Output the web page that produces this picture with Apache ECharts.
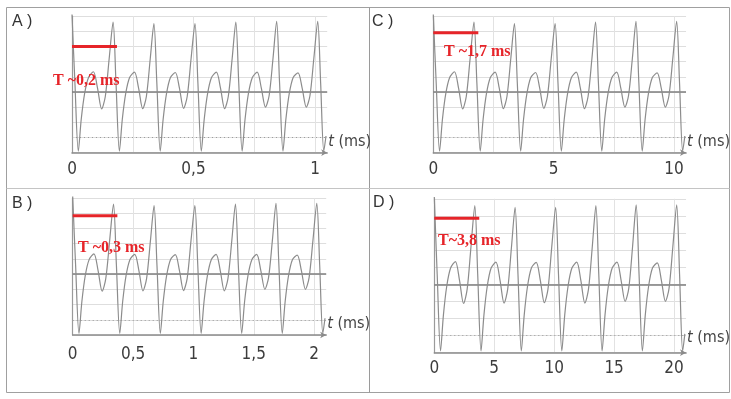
<!DOCTYPE html>
<html>
<head>
<meta charset="utf-8">
<title>Périodes</title>
<script src="https://cdn.jsdelivr.net/npm/echarts@6/dist/echarts.min.js"></script>
<style>
  html, body { margin: 0; padding: 0; background: #fff; }
  #chart { width: 731px; height: 399px; }
</style>
</head>
<body>
<div id="chart"></div>
<script>
// trace: [t (ms, panel A scale), value (grid divisions)]
const wave = [
  [0, 5.1], [0.012, 0.6], [0.026, -3.9], [0.038, -1.8], [0.052, -0.1], [0.068, 0.95], [0.088, 1.33], [0.105, 0.25], [0.122, -1.12], [0.137, -0.3], [0.153, 2.2],
  [0.169, 4.6], [0.181, 0.6], [0.195, -3.9], [0.207, -1.8], [0.221, -0.1], [0.237, 0.95], [0.257, 1.3], [0.274, 0.25], [0.291, -1.1], [0.306, -0.3], [0.322, 2.2],
  [0.337, 4.5], [0.349, 0.6], [0.363, -3.9], [0.375, -1.8], [0.389, -0.1], [0.405, 0.95], [0.425, 1.28], [0.442, 0.25], [0.459, -1.08], [0.474, -0.3], [0.49, 2.2],
  [0.506, 4.5], [0.518, 0.6], [0.532, -3.9], [0.544, -1.8], [0.558, -0.1], [0.574, 0.95], [0.594, 1.3], [0.611, 0.25], [0.628, -1.1], [0.643, -0.3], [0.659, 2.2],
  [0.674, 4.6], [0.686, 0.6], [0.7, -3.9], [0.712, -1.8], [0.726, -0.1], [0.742, 0.95], [0.762, 1.3], [0.779, 0.25], [0.796, -1.0], [0.811, -0.25], [0.827, 2.2],
  [0.842, 4.65], [0.854, 0.6], [0.868, -3.9], [0.88, -1.8], [0.894, -0.1], [0.91, 0.95], [0.93, 1.25], [0.947, 0.25], [0.964, -1.0], [0.979, -0.25], [0.995, 2.2],
  [1.011, 4.65], [1.023, 0.6], [1.036, -3.9], [1.045, -2.9]
]
// panels in order A, B, C, D
const panelNames = ['A )', 'B )', 'C )', 'D )']
const timeScale = [1, 2, 10, 20]
const xMax = [1.05, 2.1, 10.5, 21]
const xStep = [0.5, 0.5, 5, 5]
const periodLabels = ['T ~0,2 ms', 'T ~0,3 ms', 'T ~1,7 ms', 'T~3,8 ms']
const periodEnd = [0.185, 0.37, 1.87, 3.75]
const periodLevel = [3.0, 3.83, 3.89, 3.86]
const refLevels = [0, -3]

// mise en page
const grids = [
  { left: 72, top: 16, width: 255.2, height: 136.7 },
  { left: 72.7, top: 198, width: 253.5, height: 137 },
  { left: 433.3, top: 16, width: 257.3, height: 136.7 },
  { left: 434.3, top: 198.8, width: 255.6, height: 153.9 }
]
const minorGrid = [true, false, true, false]
const labelGap = [8, 11, 8, 7]
const letterPos = [[12, 23], [12, 205], [372, 23], [373, 204]]
const notePos = [[53, 82], [78, 249], [444, 53], [438, 242]]

const narrow = "'Liberation Sans Narrow', 'DejaVu Sans Condensed', 'Liberation Sans', sans-serif"
const gray = '#8c8c8c'
const red = '#e62429'

const fmt = (v) => String(v).replace('.', ',')

const myChart = echarts.init(document.getElementById('chart'), null, { renderer: 'canvas' })

const xAxis = grids.map((g, i) => ({
  type: 'value',
  gridIndex: i,
  min: 0,
  max: xMax[i],
  interval: xStep[i],
  name: '{i|t} (ms)',
  nameLocation: 'end',
  nameGap: 1,
  nameTextStyle: {
    align: 'left',
    verticalAlign: 'bottom',
    padding: [0, 0, i === 3 ? 7 : 3, 0],
    fontFamily: narrow,
    fontSize: 16,
    color: '#444',
    rich: { i: { fontStyle: 'italic', fontFamily: narrow, fontSize: 16, color: '#444' } }
  },
  axisLine: {
    show: true,
    onZero: false,
    symbol: ['none', 'arrow'],
    symbolSize: [5, 6],
    lineStyle: { color: '#8a8a8a', width: 1.5 }
  },
  axisTick: { show: false },
  axisLabel: {
    margin: labelGap[i],
    showMaxLabel: false,
    fontFamily: narrow,
    fontSize: 17,
    color: '#3c3c3c',
    formatter: fmt
  },
  splitLine: { show: true, showMinLine: false, showMaxLine: false, lineStyle: { color: '#e2e2e2', width: 1 } },
  minorTick: { show: false, splitNumber: 2 },
  minorSplitLine: { show: minorGrid[i], lineStyle: { color: '#e2e2e2', width: 1 } }
}))

const yAxis = grids.map((g, i) => ({
  type: 'value',
  gridIndex: i,
  min: -4,
  max: 5,
  interval: 1,
  axisLine: { show: true, onZero: false, lineStyle: { color: '#9a9a9a', width: 1.2 } },
  axisTick: { show: false },
  axisLabel: { show: false },
  splitLine: { show: true, lineStyle: { color: '#dedede', width: 1 } }
}))

const series = []
grids.forEach((g, i) => {
  series.push({
    type: 'line',
    xAxisIndex: i,
    yAxisIndex: i,
    data: wave.map(([t, v]) => [t * timeScale[i], v]),
    smooth: 0.3,
    showSymbol: false,
    clip: false,
    lineStyle: { color: gray, width: 1.2 },
    markLine: {
      silent: true,
      symbol: ['none', 'none'],
      label: { show: false },
      z: 3,
      data: refLevels.map((lv) => ({
        yAxis: lv,
        lineStyle: lv === 0
          ? { color: '#7e7e7e', width: 1.5, type: 'solid' }
          : { color: '#9c9c9c', width: 1.2, type: [1, 3] }
      }))
    }
  })
  series.push({
    type: 'line',
    xAxisIndex: i,
    yAxisIndex: i,
    data: [[0, periodLevel[i]], [periodEnd[i], periodLevel[i]]],
    showSymbol: false,
    clip: false,
    z: 5,
    lineStyle: { color: red, width: 3 }
  })
})

const graphic = [
  { type: 'rect', shape: { x: 6.5, y: 7.5, width: 723, height: 385 }, style: { fill: 'none', stroke: '#a0a0a0', lineWidth: 1 }, silent: true },
  { type: 'line', shape: { x1: 369.5, y1: 7.5, x2: 369.5, y2: 392.5 }, style: { stroke: '#9a9a9a', lineWidth: 1 }, silent: true },
  { type: 'line', shape: { x1: 6.5, y1: 188.5, x2: 729.5, y2: 188.5 }, style: { stroke: '#c4c4c4', lineWidth: 1 }, silent: true }
]
panelNames.forEach((name, i) => {
  graphic.push({
    type: 'text',
    left: letterPos[i][0],
    top: letterPos[i][1] - 9,
    style: { text: name, font: "16px 'Liberation Sans', sans-serif", fill: '#333' },
    silent: true
  })
  graphic.push({
    type: 'text',
    left: notePos[i][0],
    top: notePos[i][1] - 9,
    z: 10,
    style: { text: periodLabels[i], font: "bold 16px 'Liberation Serif', serif", fill: red },
    silent: true
  })
})

myChart.setOption({
  animation: false,
  backgroundColor: '#fff',
  grid: grids.map((g) => ({ ...g, containLabel: false })),
  xAxis,
  yAxis,
  series,
  graphic
})
</script>
</body>
</html>
